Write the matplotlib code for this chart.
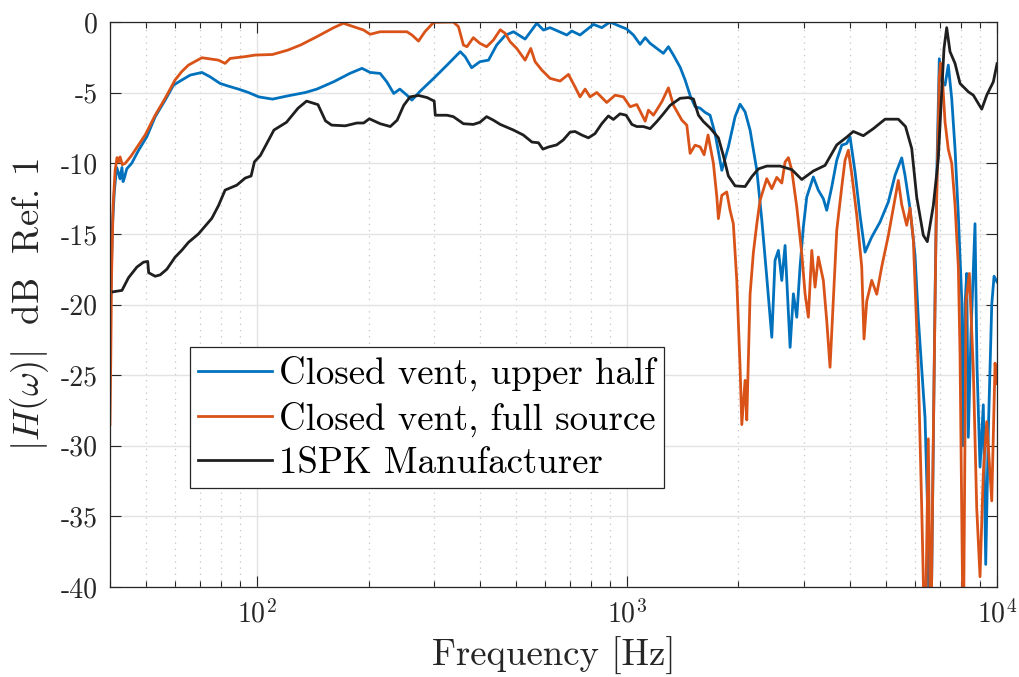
import numpy as np
import matplotlib
matplotlib.use('Agg')
import matplotlib.pyplot as plt
from matplotlib.ticker import FixedLocator, FuncFormatter, NullFormatter

# measured responses, (frequency [Hz], level [dB re. 1])
upper_half = [
    (40.0, -22.0), (40.6, -14.5), (41.1, -12.0), (41.7, -10.3), (42.2, -10.7), (42.6, -11.1),
    (43.1, -10.3), (43.4, -11.3), (43.8, -11.0), (44.4, -10.4), (45.8, -10.0), (47.8, -9.08),
    (50.3, -8.13), (53.0, -6.71), (56.4, -5.53), (59.4, -4.47), (61.9, -4.18), (65.9, -3.76),
    (70.9, -3.57), (74.6, -3.88), (79.4, -4.35), (83.6, -4.54), (89.0, -4.75), (94.7, -4.99),
    (101, -5.3), (110, -5.46), (121, -5.23), (135, -4.99), (145, -4.75), (161, -4.23),
    (178, -3.64), (192, -3.28), (202, -3.57), (215, -3.64), (224, -4.23), (234, -5.06),
    (243, -4.75), (254, -5.18), (262, -5.53), (276, -4.89), (300, -3.99), (326, -3.05),
    (354, -2.1), (365, -2.46), (380, -3.24), (400, -2.81), (422, -2.7), (444, -1.63),
    (468, -0.95), (493, -0.69), (530, -1.21), (570, -0.09), (594, -0.57), (619, -0.4),
    (687, -0.92), (709, -0.64), (746, -0.92), (811, -0.17), (854, -0.4), (899, 0.0),
    (938, -0.21), (998, -0.5), (1040, -0.92), (1084, -1.58), (1119, -1.11), (1154, -1.51),
    (1203, -1.87), (1253, -2.22), (1293, -1.75), (1334, -2.34), (1391, -3.2), (1435, -4.11),
    (1480, -5.2), (1527, -6.0), (1575, -6.1), (1625, -6.4), (1676, -6.6), (1729, -7.9),
    (1803, -10.5), (1878, -8.84), (1958, -6.71), (2020, -5.82), (2084, -6.36), (2150, -7.66),
    (2242, -10.5), (2313, -14.04), (2385, -18.06), (2461, -22.32), (2511, -16.88), (2564, -16.17),
    (2619, -18.3), (2673, -15.82), (2729, -20.66), (2758, -23.03), (2815, -19.24), (2875, -20.9),
    (2934, -17.35), (2995, -14.52), (3059, -12.39), (3187, -10.97), (3288, -11.91), (3392, -12.51),
    (3464, -13.33), (3574, -11.68), (3687, -9.79), (3804, -8.72), (3924, -8.6), (4005, -8.13),
    (4131, -10.6), (4262, -13.69), (4397, -16.29), (4584, -15.22), (4827, -14.16), (5083, -12.74),
    (5300, -10.85), (5525, -9.62), (5639, -10.85), (5817, -13.2), (6002, -16.52), (6126, -21.0),
    (6257, -24.6), (6387, -28.0), (6479, -33.8), (6569, -45.0), (6659, -39.3), (6725, -30.0),
    (6796, -19.76), (6882, -10.0), (6981, -2.6), (7086, -4.23), (7234, -4.47), (7383, -3.05),
    (7541, -5.41), (7698, -8.96), (7858, -13.69), (8026, -19.6), (8091, -30.0), (8193, -20.0),
    (8279, -17.8), (8362, -29.4), (8504, -22.0), (8718, -14.28), (8828, -24.4), (8994, -31.5),
    (9180, -27.1), (9319, -38.4), (9473, -28.9), (9676, -20.0), (9815, -18.0), (10000, -18.4),
]

full_source = [
    (40.0, -28.5), (40.2, -24.0), (40.4, -18.0), (40.8, -13.0), (41.3, -10.5), (41.8, -9.6),
    (42.2, -9.9), (42.6, -9.55), (43.2, -10.1), (44.0, -10.0), (45.6, -9.5), (47.8, -8.7),
    (49.8, -8.0), (53.0, -6.6), (56.4, -5.4), (60.0, -4.1), (62.6, -3.5), (65.2, -3.05),
    (70.9, -2.53), (78.6, -2.7), (81.9, -2.93), (84.5, -2.58), (92.8, -2.45), (98.8, -2.34),
    (110, -2.3), (121, -1.99), (131, -1.63), (145, -1.04), (161, -0.4), (171, -0.09),
    (182, -0.33), (194, -0.57), (202, -0.87), (215, -0.69), (254, -0.69), (262, -0.92),
    (273, -1.35), (284, -0.69), (300, -0.02), (339, 0.0), (350, -0.33), (361, -1.63),
    (369, -1.75), (384, -1.11), (400, -1.51), (417, -1.75), (435, -1.28), (454, -0.55),
    (468, -0.8), (483, -1.4), (503, -1.87), (530, -2.7), (549, -1.87), (564, -2.81),
    (588, -3.4), (619, -3.99), (659, -4.18), (694, -3.71), (723, -4.59), (746, -5.3),
    (770, -4.75), (794, -5.3), (828, -4.99), (881, -5.7), (928, -5.18), (977, -5.3),
    (1019, -6.0), (1062, -5.84), (1119, -7.02), (1142, -6.24), (1178, -6.6), (1241, -5.65),
    (1293, -4.66), (1334, -5.89), (1406, -6.95), (1450, -7.3), (1480, -9.3), (1527, -8.72),
    (1575, -8.84), (1615, -9.4), (1655, -8.0), (1711, -10.0), (1748, -12.39), (1765, -13.92),
    (1803, -12.27), (1859, -12.03), (1898, -13.33), (1937, -14.28), (1979, -18.3), (2020, -24.44),
    (2042, -28.5), (2084, -25.37), (2106, -28.17), (2150, -19.27), (2194, -16.34), (2242, -14.28),
    (2288, -12.62), (2385, -11.09), (2461, -11.8), (2538, -11.0), (2619, -11.4), (2673, -9.91),
    (2729, -9.6), (2787, -10.49), (2875, -13.1), (2966, -16.4), (3027, -19.24), (3090, -20.9),
    (3156, -16.17), (3221, -18.77), (3288, -16.64), (3392, -18.3), (3464, -21.13), (3536, -24.44),
    (3610, -19.7), (3687, -14.75), (3804, -11.68), (3882, -9.79), (3963, -9.08), (4047, -10.73),
    (4175, -13.66), (4307, -17.32), (4369, -22.44), (4444, -19.76), (4584, -18.29), (4729, -19.27),
    (4879, -17.32), (5083, -15.12), (5243, -13.17), (5409, -11.22), (5525, -12.93), (5699, -14.39),
    (5817, -13.17), (5938, -15.37), (6126, -24.63), (6257, -34.39), (6387, -45.0), (6519, -29.51),
    (6618, -45.0), (6725, -29.51), (6839, -14.88), (6981, -3.9), (7033, -2.9), (7086, -3.17),
    (7234, -7.07), (7383, -9.02), (7541, -10.0), (7698, -12.93), (7858, -17.32), (7941, -23.41),
    (8106, -45.0), (8244, -19.76), (8415, -17.8), (8627, -24.63), (8811, -34.39), (8994, -39.27),
    (9180, -31.95), (9379, -28.29), (9676, -33.9), (9876, -24.15), (10000, -25.6),
]

manufacturer = [
    (40.8, -19.1), (43.1, -19.0), (44.9, -18.1), (47.3, -17.35), (49.3, -17.0), (50.6, -16.95),
    (50.9, -17.75), (53.0, -18.0), (54.7, -17.9), (57.0, -17.5), (60.0, -16.65), (62.6, -16.15),
    (65.2, -15.6), (69.4, -15.0), (75.4, -13.9), (78.6, -13.0), (81.9, -11.9), (88.1, -11.55),
    (92.8, -11.05), (96.3, -10.9), (98.3, -9.9), (102, -9.45), (111, -7.65), (120, -7.1),
    (129, -6.1), (136, -5.6), (146, -5.85), (153, -7.0), (159, -7.3), (173, -7.35),
    (186, -7.15), (194, -7.15), (201, -6.85), (215, -7.2), (229, -7.4), (239, -6.95),
    (249, -5.9), (259, -5.3), (273, -5.2), (288, -5.35), (301, -5.6), (303, -6.6),
    (326, -6.6), (339, -6.7), (361, -7.2), (384, -7.25), (400, -7.1), (417, -6.7),
    (435, -6.95), (454, -7.25), (493, -7.65), (524, -8.0), (553, -8.5), (576, -8.55),
    (592, -9.0), (613, -8.85), (645, -8.7), (672, -8.35), (701, -7.8), (723, -7.75),
    (754, -8.0), (786, -8.2), (819, -7.9), (854, -7.2), (890, -6.65), (918, -6.9),
    (957, -6.5), (994, -6.6), (1030, -7.25), (1062, -7.4), (1106, -7.4), (1154, -7.55),
    (1203, -7.05), (1253, -6.5), (1307, -5.9), (1391, -5.4), (1462, -5.35), (1511, -5.45),
    (1559, -6.6), (1608, -7.05), (1676, -7.5), (1765, -8.2), (1818, -9.4), (1878, -10.9),
    (1958, -11.6), (2084, -11.65), (2173, -10.95), (2264, -10.4), (2385, -10.2), (2591, -10.2),
    (2787, -10.45), (2966, -11.15), (3187, -10.55), (3428, -10.15), (3687, -8.7), (3924, -8.15),
    (4088, -7.75), (4350, -8.05), (4630, -7.55), (4980, -6.88), (5409, -6.88), (5657, -7.4),
    (5880, -8.96), (6065, -12.4), (6320, -15.1), (6479, -15.55), (6725, -13.0), (6938, -9.67),
    (7086, -4.94), (7188, -1.87), (7310, -0.4), (7462, -2.1), (7698, -2.93), (7941, -4.35),
    (8362, -4.94), (8627, -5.18), (9090, -6.17), (9379, -5.18), (9772, -4.23), (10000, -2.95),
]

labels = ['Closed vent, upper half', 'Closed vent, full source', '1SPK Manufacturer']
colors = ['#0072BD', '#D95319', '#1f1f1f']
yticks = [-40, -35, -30, -25, -20, -15, -10, -5, 0]

plt.rcParams['font.family'] = 'serif'
plt.rcParams['font.serif'] = ['cmr10']
plt.rcParams['mathtext.fontset'] = 'cm'
plt.rcParams['axes.unicode_minus'] = False

fig = plt.figure(figsize=(10.2, 6.77), dpi=100)
ax = fig.add_axes([0.1078, 0.1329, 0.8697, 0.8346])

for data, lab, col in zip([upper_half, full_source, manufacturer], labels, colors):
    f, db = np.array(data).T
    ax.plot(f, db, color=col, lw=2.0, label=lab, solid_joinstyle='round')

ax.set_xscale('log')
ax.set_xlim(40, 10000)
ax.set_ylim(-40, 0)

ax.xaxis.set_major_locator(FixedLocator([100, 1000, 10000]))
ax.xaxis.set_major_formatter(FuncFormatter(lambda v, p: r'$10^{%d}$' % round(np.log10(v))))
minors = [m * 10 ** e for e in (1, 2, 3) for m in range(2, 10) if 40 <= m * 10 ** e <= 10000]
ax.xaxis.set_minor_locator(FixedLocator(minors))
ax.xaxis.set_minor_formatter(NullFormatter())
ax.set_yticks(yticks)
ax.yaxis.set_major_formatter(FuncFormatter(lambda v, p: '%d' % v))

ax.grid(True, which='major', color='#e3e3e3', lw=1.0, ls='-')
ax.grid(True, which='minor', axis='x', color='#c4c4c4', lw=0.9, ls=(0, (1, 4)))
ax.set_axisbelow(True)

ax.tick_params(which='both', direction='in', top=True, right=True, colors='#262626',
               labelcolor='#262626', labelsize=20, width=0.8)
ax.tick_params(which='major', length=8, pad=9)
ax.tick_params(which='minor', length=4.5)
for s in ax.spines.values():
    s.set_color('#262626')
    s.set_linewidth(0.9)

ax.set_xlabel('Frequency [Hz]', fontsize=26.5, color='#262626', labelpad=6)
ax.set_ylabel(r'$|H(\omega)|$  dB  Ref. 1', fontsize=26.5, color='#262626', labelpad=7)

leg = ax.legend(loc='lower left', bbox_to_anchor=(0.0902, 0.175), borderaxespad=0,
                fontsize=26.5, frameon=True, fancybox=False, framealpha=1, edgecolor='#262626',
                handlelength=2.0, handletextpad=0.2, borderpad=0.22, labelspacing=0.28)
leg.get_frame().set_linewidth(0.9)

fig.savefig('out.png', dpi=100)
